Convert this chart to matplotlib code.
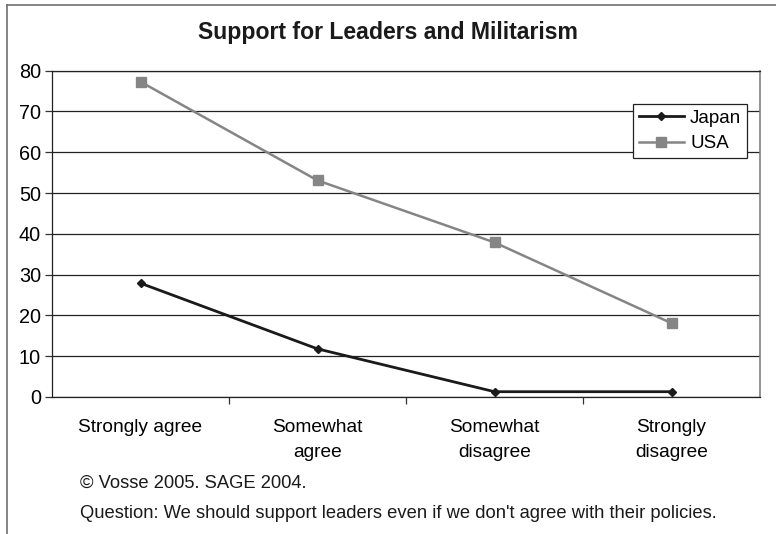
import matplotlib.pyplot as plt
from matplotlib.lines import Line2D

plt.rcParams['font.family'] = ['Liberation Sans', 'DejaVu Sans']

categories = ['Strongly agree', 'Somewhat\nagree', 'Somewhat\ndisagree', 'Strongly\ndisagree']
japan = [27.9, 11.8, 1.3, 1.3]
usa = [77.3, 53.1, 37.9, 18.1]

fig = plt.figure(figsize=(7.76, 5.34), dpi=100)
ax = fig.add_axes([52 / 776, 1 - 397 / 534, 708 / 776, (397 - 70.7) / 534])

x = range(len(categories))
ax.plot(x, japan, color='#1a1a1a', lw=2.0, marker='D', ms=4.5, label='Japan', zorder=3)
ax.plot(x, usa, color='#858585', lw=1.8, marker='s', ms=6.5, label='USA', zorder=3)

ax.set_xlim(-0.5, 3.5)
ax.set_ylim(0, 80)
ax.set_yticks(range(0, 81, 10))
ax.yaxis.grid(True, color='#222222', lw=0.9)
ax.set_axisbelow(True)

# category names sit between the tick marks
ax.set_xticks([0.5, 1.5, 2.5], labels=[])
ax.set_xticks(list(x), labels=categories, minor=True, linespacing=1.6)
ax.tick_params(axis='x', which='minor', length=0, pad=16, labelsize=13.8)
ax.tick_params(axis='x', which='major', length=5, width=0.9, color='#333333')
ax.tick_params(axis='y', length=5, width=0.9, labelsize=14.3, pad=3, color='#333333')

for side in ['left', 'bottom', 'top']:
    ax.spines[side].set_color('#222222')
    ax.spines[side].set_linewidth(0.9)
ax.spines['right'].set_color('#808080')
ax.spines['right'].set_linewidth(1.2)

fig.text(0.5, 1 - 32 / 534, 'Support for Leaders and Militarism', ha='center', va='center',
         fontsize=16.6, fontweight='bold', color='#1a1a1a')

leg = ax.legend(loc='upper right', bbox_to_anchor=(747 / 776, 1 - 104 / 534),
                bbox_transform=fig.transFigure, fancybox=False, framealpha=1,
                edgecolor='#222222', fontsize=13.5, handlelength=2.4,
                borderpad=0.3, labelspacing=0.45, handletextpad=0.35, borderaxespad=0)
leg.get_frame().set_linewidth(0.9)

fig.text(80 / 776, 1 - 483 / 534, '\u00a9 Vosse 2005. SAGE 2004.', ha='left', va='center',
         fontsize=13.2, color='#1a1a1a')
fig.text(80 / 776, 1 - 514 / 534,
         "Question: We should support leaders even if we don't agree with their policies.",
         ha='left', va='center', fontsize=13.2, color='#1a1a1a')

# outer frame, top and left edges
fig.add_artist(Line2D([7 / 776, 1], [1 - 5 / 534, 1 - 5 / 534], transform=fig.transFigure,
                      color='#707070', lw=1.2))
fig.add_artist(Line2D([7 / 776, 7 / 776], [0, 1 - 5 / 534], transform=fig.transFigure,
                      color='#707070', lw=1.2))

fig.savefig('out.png', dpi=100)
